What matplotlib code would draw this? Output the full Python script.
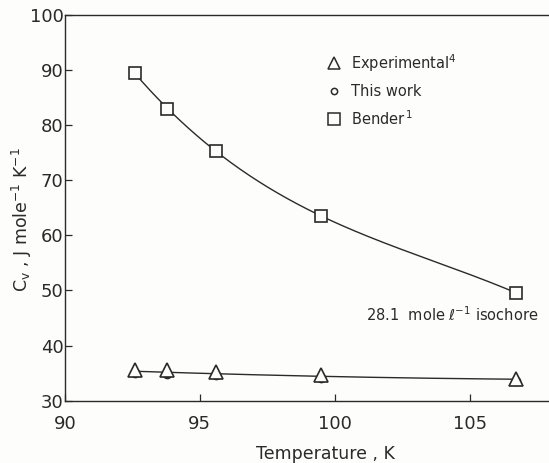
import numpy as np
import matplotlib.pyplot as plt

# Isocora de 28.1 mol/l: Cv frente a temperatura
temp_k = [92.6, 93.8, 95.6, 99.5, 106.7]
cv_bender = [89.4, 83.0, 75.3, 63.5, 49.6]
cv_experimental = [35.6, 35.5, 35.2, 34.6, 34.0]
cv_this_work = [35.0, 34.9, 34.6, 34.1, 33.6]

INK = "#2a2a2a"
BG = "#fdfdfb"

fig = plt.figure(figsize=(5.49, 4.63), dpi=100, facecolor=BG)
ax = fig.add_axes([0.118, 0.1346, 0.882, 0.833], facecolor=BG)

# curvas suaves ajustadas a los puntos
t = np.array(temp_k)
tt = np.linspace(t.min(), t.max(), 200)
fit_b = np.polyfit(t, cv_bender, 3)
ax.plot(tt, np.polyval(fit_b, tt), color=INK, lw=1.0, zorder=1)
fit_e = np.polyfit(t, cv_this_work, 2)
ax.plot(tt, np.polyval(fit_e, tt) + 0.3, color=INK, lw=1.0, zorder=1)

ax.plot(temp_k, cv_bender, ls="none", marker="s", ms=9, mfc=BG, mec=INK, mew=1.2, zorder=3)
ax.plot(temp_k, cv_this_work, ls="none", marker="o", ms=6, mfc=INK, mec=INK, mew=1.0, zorder=2)
ax.plot(temp_k, cv_experimental, ls="none", marker="^", ms=9.5, mfc=BG, mec=INK, mew=1.2, zorder=3)

# leyenda dibujada como texto
legend_items = [("^", 9, "Experimental$^{4}$"), ("o", 5, "This work"), ("s", 9, "Bender$^{\\,1}$")]
for i, (mk, ms, label) in enumerate(legend_items):
    y = 0.875 - i * 0.0725
    ax.plot([0.556], [y], transform=ax.transAxes, marker=mk, ms=ms * 0.9,
            mfc=BG, mec=INK, mew=1.1, ls="none", clip_on=False)
    ax.text(0.592, y, label, transform=ax.transAxes, fontsize=10.5,
            color=INK, va="center", ha="left")

ax.text(101.15, 45.6, "28.1  mole ℓ$^{-1}$ isochore", fontsize=10.5,
        color=INK, va="center", ha="left")

ax.set_xlim(90, 107.93)
ax.set_ylim(30, 100)
ax.set_xticks([90, 95, 100, 105])
ax.set_yticks(range(30, 101, 10))
ax.tick_params(direction="in", length=5, width=0.9, color=INK,
               labelcolor=INK, labelsize=13)
ax.tick_params(axis="x", pad=10)
ax.tick_params(axis="y", pad=1)
ax.spines["right"].set_visible(False)
for side in ["left", "top", "bottom"]:
    ax.spines[side].set_color(INK)
    ax.spines[side].set_linewidth(1.0)

ax.set_xlabel("Temperature , K", fontsize=12.5, color=INK)
ax.xaxis.set_label_coords(0.539, -0.115)
ax.set_ylabel("C$_\\mathrm{v}$ , J mole$^{-1}$ K$^{-1}$", fontsize=12.5, color=INK)
ax.yaxis.set_label_coords(-0.064, 0.469)

fig.savefig("out.png", dpi=100, facecolor=BG)
